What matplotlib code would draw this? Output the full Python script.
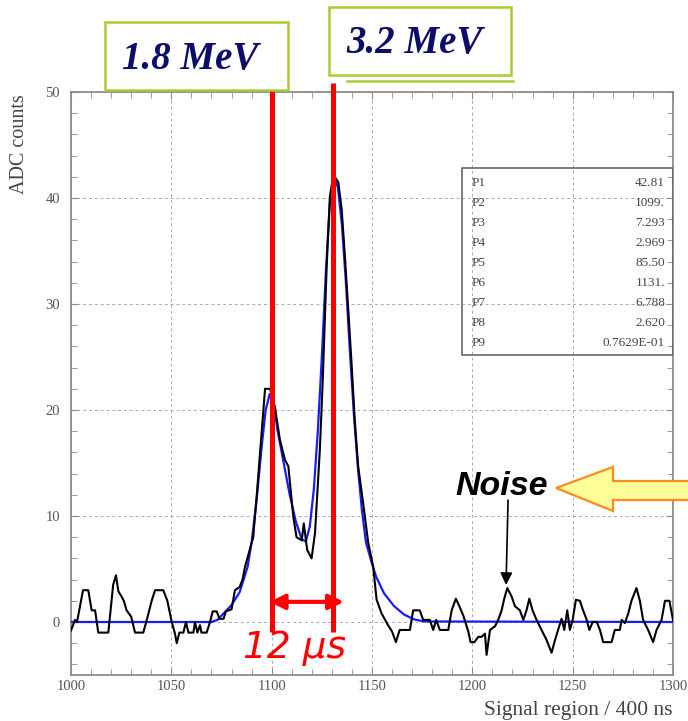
import matplotlib
matplotlib.use("Agg")
import matplotlib.pyplot as plt
import numpy as np
from matplotlib.patches import Rectangle, Polygon
from matplotlib.ticker import MultipleLocator

sig_x = [1000, 1002, 1003, 1006, 1008.6, 1010.3, 1012, 1013.6, 1018.6, 1021, 1022.4, 1023.6,
         1025.2, 1026.3, 1027.7, 1030, 1031.9, 1036, 1037.5, 1040.2, 1041.9, 1046, 1048,
         1050.2, 1051.8, 1052.7, 1054, 1056, 1057.3, 1058.5, 1061, 1061.8, 1063, 1064.3,
         1065, 1067.6, 1069.3, 1070.6, 1072.6, 1074, 1076, 1077.2, 1080, 1081.7, 1084,
         1085.5, 1086.7, 1090.8, 1092.5, 1095, 1096.7, 1099.2, 1101.6, 1104.1, 1106.6,
         1108.3, 1110.8, 1112.4, 1115, 1116, 1117.7, 1119.9, 1121.6, 1124, 1125.4, 1127.4,
         1129, 1130.7, 1133.2, 1134.9, 1136.5, 1138.2, 1139.9, 1141.5, 1143.1, 1145.6,
         1148.1, 1150.6, 1152.3, 1154.8, 1158, 1160, 1161.9, 1163.8, 1168.9, 1170.5,
         1173.8, 1175.5, 1178.8, 1180.5, 1182, 1183.8, 1188, 1189.7, 1191.8, 1193.5,
         1195.5, 1198, 1199.1, 1201, 1203, 1204.6, 1206.3, 1207.1, 1208.8, 1211.3, 1212.9,
         1214.6, 1215.9, 1217.4, 1219.6, 1221.2, 1223.7, 1225.4, 1227, 1228.4, 1230, 1232,
         1234.5, 1237, 1239.5, 1241.2, 1243.3, 1244.5, 1245.8, 1247.3, 1248.6, 1250,
         1251.6, 1253.6, 1255.2, 1257, 1258.3, 1260, 1262, 1263.6, 1265.2, 1269.4, 1271,
         1273.5, 1274.4, 1276, 1277.7, 1279.3, 1281.8, 1283.5, 1285.1, 1287.6, 1290.1,
         1291.8, 1294.3, 1296, 1298.2, 1300]
sig_y = [-0.8, 0.2, 0, 3, 3, 1.1, 1.1, -1, -1, 3.5, 4.4, 2.9,
         2.4, 2, 1.1, 0.5, -1, -1, 0, 2, 3, 3, 2,
         0, -1.1, -2, -1, -1, 0, -1, -1, 0, -1, -0.3,
         -1, -1, 0, 1, 1, 0.3, 0.3, 1, 1.2, 3, 3.3,
         4, 5.2, 8, 11.8, 17.8, 22, 22, 20.3, 17.2, 15.3,
         14.7, 9.9, 8, 7.7, 9.3, 6.8, 6, 8.4, 16.2, 22.5, 33.5,
         40.1, 42.2, 41.5, 38.9, 34.5, 29.4, 24.1, 18.8, 14.7, 11.2,
         7.5, 5.2, 2.1, 0.8, -0.3, -0.9, -1.9, -0.75, -0.75, 1.1,
         1.1, 0.2, 0.2, -0.75, 0.2, -0.75, -0.75, 1.1, 2.2, 1.5,
         0.6, -0.9, -1.9, -1.9, -1.4, -1.4, -1.1, -3.1, -0.75, -0.4, 0.2,
         1.1, 2.2, 3.2, 2.4, 1.5, 1.1, 0.2, 1.1, 2.2, 1.1, 0.2,
         -0.75, -1.7, -2.9, -1.7, -0.4, 0.3, -0.75, 1.1, -0.75, 0.2,
         2.1, 2, 1.1, 0.2, -0.75, 0, 0, -0.75, -1.9, -1.9, -0.75,
         -0.75, 0.2, -0.1, 0.8, 2, 3.2, 2, 0.2, -0.75, -1.9,
         -0.75, 0.2, 2, 2, 0.2]

# two-peak fit (blue)
fit_x = [1000, 1070, 1073, 1077, 1080, 1084, 1088, 1090, 1092.5, 1095, 1097, 1099, 1101,
         1103, 1106, 1109, 1112, 1115, 1117, 1119, 1121, 1123, 1125, 1127, 1129, 1131,
         1133, 1135, 1137, 1139, 1141, 1143, 1145, 1147, 1150, 1152, 1156, 1161, 1166,
         1171, 1176, 1300]
fit_y = [0, 0, 0.2, 1, 1.6, 2.8, 5.2, 7.5, 11.5, 16.5, 20, 21.5, 20.5,
         18, 15, 12, 9.5, 7.8, 7.6, 9, 12.5, 18, 25, 33, 39.5, 42,
         41, 37.5, 32, 25.5, 19.5, 14.5, 10.5, 7.5, 5.5, 4.3, 2.7, 1.5, 0.7,
         0.25, 0.05, 0]

par_names = ["P1", "P2", "P3", "P4", "P5", "P6", "P7", "P8", "P9"]
par_vals = ["42.81", "1099.", "7.293", "2.969", "85.50", "1131.", "6.788", "2.620", "0.7629E-01"]

peak_pos = [1100, 1130.4]
peak_labels = ["1.8 MeV", "3.2 MeV"]

W, H = 688, 721
fig = plt.figure(figsize=(W / 100, H / 100), dpi=100)
ax = fig.add_axes([71 / W, 1 - 675 / H, 602 / W, 583 / H])

gray = "#8c8c8c"
ax.plot(fit_x, fit_y, color="#1a1aff", lw=1.6, zorder=3)
ax.plot(sig_x, sig_y, color="black", lw=1.5, zorder=4)

ax.set_xlim(1000, 1300)
ax.set_ylim(-5, 50)
ax.xaxis.set_major_locator(MultipleLocator(50))
ax.xaxis.set_minor_locator(MultipleLocator(10))
ax.yaxis.set_major_locator(MultipleLocator(10))
ax.yaxis.set_minor_locator(MultipleLocator(2))
ax.tick_params(which="both", direction="in", top=True, right=True, color=gray,
               labelcolor="#555555", labelsize=10.5)
ax.tick_params(which="major", length=5)
ax.tick_params(which="minor", length=4)
ax.tick_params(axis="y", pad=8)
for lab in ax.get_xticklabels() + ax.get_yticklabels():
    lab.set_family("Liberation Serif")
for s in ax.spines.values():
    s.set_color(gray)
    s.set_linewidth(1.3)
ax.grid(True, which="major", ls=(0, (3, 3)), color="#aaaaaa", lw=0.7)

ax.set_ylabel("ADC counts", family="Liberation Serif", fontsize=14.5, color="#444444")
ax.yaxis.set_label_coords(-0.07, 0.91)
ax.set_xlabel("Signal region / 400 ns", family="Liberation Serif", fontsize=15.5,
              color="#444444", ha="right")
ax.xaxis.set_label_coords(1.0, -0.045)

# fit parameter box
ax.add_patch(Rectangle((1195, 25.2), 105, 17.6, fill=False, ec="#666666", lw=1.2, zorder=5))
for i, (n, v) in enumerate(zip(par_names, par_vals)):
    yy = 41.4 - i * 1.88
    ax.text(1199.5, yy, n, family="Liberation Serif", fontsize=9.5, color="#444444", va="center")
    ax.text(1296, yy, v, family="Liberation Serif", fontsize=9.5, color="#444444",
            va="center", ha="right")

# red markers at the two peaks
for xp in peak_pos:
    ax.plot([xp, xp], [-0.95, 50.85], color="red", lw=3.6, clip_on=False, zorder=6,
            solid_capstyle="butt")
ax.annotate("", xy=(1136, 1.9), xytext=(1099, 1.9),
            arrowprops=dict(arrowstyle="<|-|>", color="red", lw=3, mutation_scale=22,
                            shrinkA=0, shrinkB=0), zorder=6)
ax.text(1111.5, -0.8, "12 \u03bcs", color="red", fontsize=27, style="italic",
        ha="center", va="top", family="DejaVu Sans", zorder=6)

# noise annotation
ax.text(1214.5, 12.8, "Noise", fontsize=24.5, weight="bold", style="italic",
        family="Liberation Sans", ha="center", va="center", zorder=6)
ax.annotate("", xy=(1216.8, 3.5), xytext=(1217.8, 11.5),
            arrowprops=dict(arrowstyle="-|>", color="black", lw=1.2, mutation_scale=18,
                            shrinkA=0, shrinkB=0), zorder=6)


def fx(px):
    return px / W


def fy(py):
    return 1 - py / H


arrow = [(556, 488), (613, 467), (613, 481), (690, 481), (690, 500), (613, 500), (613, 511)]
fig.add_artist(Polygon([(fx(a), fy(b)) for a, b in arrow], closed=True, fc="#ffff9a",
                       ec="#ff8c1a", lw=1.6, transform=fig.transFigure, zorder=7))

# energy label boxes
boxes = [(105, 22, 183, 68), (329, 7, 182, 68)]
for (bx, by, bw, bh), lab in zip(boxes, peak_labels):
    fig.add_artist(Rectangle((fx(bx), fy(by + bh)), bw / W, bh / H, fc="white",
                             ec="#a6cc33", lw=1.8, transform=fig.transFigure, zorder=5))
    fig.text(fx(bx + bw / 2 - 6), fy(by + bh / 2 + 3), lab, family="Liberation Serif",
             weight="bold", style="italic", fontsize=28, color="#0c0c6a",
             ha="center", va="center", zorder=8)
fig.add_artist(plt.Line2D([fx(347), fx(513)], [fy(81), fy(81)], color="#a6cc33", lw=1.8,
                          transform=fig.transFigure))

fig.savefig("out.png", dpi=100)
